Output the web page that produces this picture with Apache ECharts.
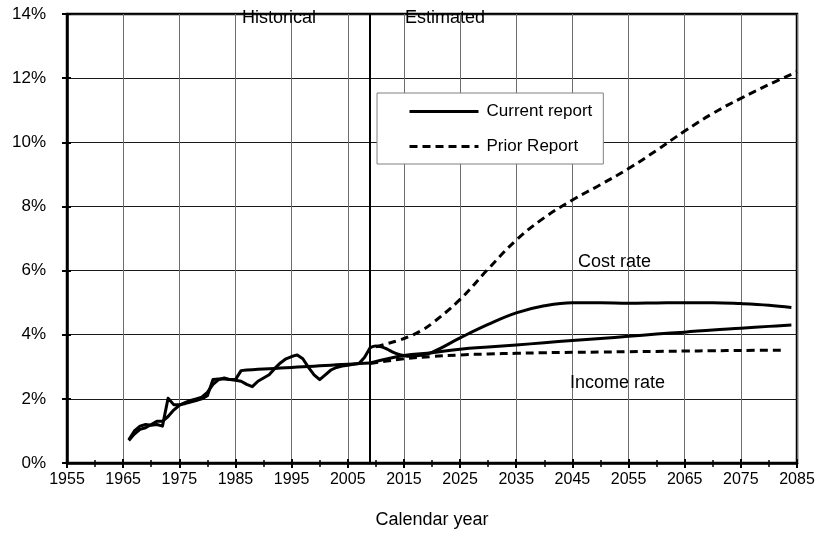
<!DOCTYPE html>
<html>
<head>
<meta charset="utf-8">
<script src="https://cdn.jsdelivr.net/npm/echarts@6/dist/echarts.min.js"></script>
<style>html,body{margin:0;padding:0;background:#fff;}#c{width:823px;height:537px;}</style>
</head>
<body>
<div id="c"></div>
<script>
// ---- data (years, percent of taxable payroll) ----
const baseYear = 1955;
const yTicks = [0, 2, 4, 6, 8, 10, 12, 14];

const histYears = [1966,1967,1968,1969,1970,1971,1972,1973,1974,1975,1976,1977,1978,1979,1980,1981,1982,1983,1984,1985,1986,1987,1988,1989,1990,1991,1992,1993,1994,1995,1996,1997,1998,1999,2000,2001,2002,2003,2004,2005,2006,2007,2008,2009];
const histCost = [0.70,0.90,1.05,1.10,1.20,1.30,1.30,1.45,1.65,1.80,1.88,1.95,2.00,2.05,2.20,2.45,2.60,2.65,2.60,2.58,2.55,2.45,2.38,2.55,2.65,2.75,2.95,3.12,3.25,3.32,3.37,3.25,2.98,2.75,2.60,2.75,2.90,2.98,3.02,3.05,3.08,3.10,3.30,3.60];
const histIncome = [0.72,1.00,1.15,1.20,1.18,1.20,1.15,2.02,1.82,1.82,1.85,1.90,1.95,2.00,2.10,2.60,2.62,2.62,2.60,2.60,2.88,2.90,2.91,2.92,2.93,2.94,2.95,2.96,2.97,2.98,2.99,3.00,3.01,3.02,3.03,3.04,3.05,3.06,3.07,3.08,3.09,3.10,3.11,3.12];

const projCostYears = [2009,2010,2011,2012,2013,2014,2015,2016,2018,2020,2025,2030,2035,2040,2045,2050,2055,2060,2065,2070,2075,2080,2084];
const projCost = [3.60,3.65,3.62,3.55,3.46,3.39,3.35,3.33,3.36,3.45,3.90,4.32,4.68,4.90,5.00,5.00,4.98,4.99,5.00,5.00,4.97,4.92,4.85];

const projIncomeYears = [2009,2015,2020,2025,2030,2035,2040,2045,2050,2055,2060,2065,2070,2075,2080,2084];
const projIncome = [3.12,3.35,3.44,3.55,3.62,3.68,3.75,3.82,3.88,3.95,4.02,4.08,4.15,4.20,4.26,4.30];

const priorCostYears = [2010,2012,2014,2016,2018,2020,2025,2030,2035,2040,2045,2050,2055,2060,2065,2070,2075,2080,2085];
const priorCost = [3.62,3.72,3.82,3.95,4.12,4.35,5.10,6.05,6.95,7.65,8.20,8.68,9.18,9.75,10.35,10.90,11.37,11.80,12.20];

const priorIncomeYears = [2009,2012,2015,2020,2025,2030,2035,2040,2045,2050,2055,2060,2065,2070,2075,2083];
const priorIncome = [3.10,3.18,3.25,3.32,3.37,3.40,3.42,3.44,3.45,3.46,3.47,3.48,3.49,3.50,3.51,3.52];

const divideYear = 2009;
const seriesNames = ['Current report', 'Prior Report'];

// ---- build ----
const pts = (yrs, vals) => yrs.map((y, i) => [y - baseYear, vals[i]]);
const FONT = '"Liberation Sans", Arial, sans-serif';
const W = 3;

function lineSeries(name, data, dashed, smooth) {
  return {
    name: name, type: 'line', data: data, symbol: 'none', smooth: smooth,
    xAxisIndex: 0, yAxisIndex: 0,
    lineStyle: { color: '#000', width: W, type: dashed ? [8, 5] : 'solid', cap: 'butt', join: 'round' },
    itemStyle: { color: '#000' },
    z: 5
  };
}

const series = [
  lineSeries(seriesNames[0], pts(histYears, histCost), false, false),
  lineSeries(seriesNames[0], pts(histYears, histIncome), false, false),
  lineSeries(seriesNames[0], pts(projCostYears, projCost), false, 0.4),
  lineSeries(seriesNames[0], pts(projIncomeYears, projIncome), false, 0.4),
  lineSeries(seriesNames[1], pts(priorCostYears, priorCost), true, 0.4),
  lineSeries(seriesNames[1], pts(priorIncomeYears, priorIncome), true, 0.4)
];
series[0].markLine = {
  silent: true, symbol: 'none', animation: false,
  label: { show: false },
  lineStyle: { color: '#000', width: 2, type: 'solid' },
  data: [{ xAxis: divideYear - baseYear }]
};

const xCommon = { type: 'value', min: 0, max: 130, interval: 10, position: 'bottom' };
const yCommon = { type: 'value', min: yTicks[0], max: yTicks[yTicks.length - 1], interval: 2, position: 'left' };

const option = {
  animation: false,
  backgroundColor: '#fff',
  textStyle: { fontFamily: FONT },
  grid: { left: 67, right: 26, top: 14, bottom: 74, show: true, borderColor: '#000', borderWidth: 2.5, backgroundColor: 'transparent' },
  legend: {
    data: seriesNames, orient: 'vertical', left: 377, top: 93,
    padding: [10, 11, 9, 31], itemGap: 18, itemWidth: 69, itemHeight: 14,
    backgroundColor: '#fff', borderColor: '#808080', borderWidth: 1, borderRadius: 0,
    textStyle: { fontFamily: FONT, fontSize: 17, color: '#000', padding: [0, 0, 0, 3] },
    itemStyle: { opacity: 0 },
    lineStyle: { width: 3 }, z: 10
  },
  xAxis: [
    Object.assign({}, xCommon, {
      name: 'Calendar year', nameLocation: 'middle', nameGap: 48,
      nameTextStyle: { fontFamily: FONT, fontSize: 18, color: '#000' },
      axisLine: { show: true, onZero: false, lineStyle: { color: '#000', width: 2.5 } },
      axisTick: { show: true, inside: false, length: 5, lineStyle: { color: '#000', width: 2 } },
      minorTick: { show: true, splitNumber: 2, length: 4, lineStyle: { color: '#000', width: 1.5 } },
      axisLabel: { fontFamily: FONT, fontSize: 16, color: '#000', margin: 9, formatter: v => String(v + baseYear) },
      splitLine: { show: true, lineStyle: { color: '#6e6e6e', width: 1 } }
    }),
    Object.assign({}, xCommon, {
      axisLine: { show: false },
      axisTick: { show: true, inside: true, length: 4, lineStyle: { color: '#000', width: 2 } },
      minorTick: { show: true, splitNumber: 2, length: 3, lineStyle: { color: '#000', width: 1.5 } },
      axisLabel: { show: false }, splitLine: { show: false }
    })
  ],
  yAxis: [
    Object.assign({}, yCommon, {
      axisLine: { show: true, onZero: false, lineStyle: { color: '#000', width: 2.5 } },
      axisTick: { show: true, inside: false, length: 5, lineStyle: { color: '#000', width: 2 } },
      axisLabel: { fontFamily: FONT, fontSize: 17, color: '#000', margin: 21, formatter: v => v + '%' },
      splitLine: { show: true, lineStyle: { color: '#1a1a1a', width: 1 } }
    }),
    Object.assign({}, yCommon, {
      axisLine: { show: false },
      axisTick: { show: true, inside: true, length: 4, lineStyle: { color: '#000', width: 2 } },
      axisLabel: { show: false }, splitLine: { show: false }
    })
  ],
  graphic: [
    { type: 'text', x: 242, y: 18, style: { text: 'Historical', font: '18px ' + FONT, fill: '#000', verticalAlign: 'middle' }, z: 20 },
    { type: 'text', x: 405, y: 18, style: { text: 'Estimated', font: '18px ' + FONT, fill: '#000', verticalAlign: 'middle' }, z: 20 },
    { type: 'text', x: 578, y: 262, style: { text: 'Cost rate', font: '18px ' + FONT, fill: '#000', verticalAlign: 'middle' }, z: 20 },
    { type: 'text', x: 570, y: 383, style: { text: 'Income rate', font: '18px ' + FONT, fill: '#000', verticalAlign: 'middle' }, z: 20 }
  ],
  series: series
};

const chart = echarts.init(document.getElementById('c'), null, { renderer: 'canvas' });
chart.setOption(option);
</script>
</body>
</html>
